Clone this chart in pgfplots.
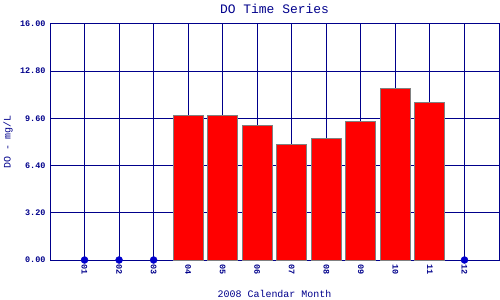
\documentclass[border=0pt]{standalone}
\usepackage{fontspec}
\setmainfont{Liberation Mono}
\usepackage{pgfplots}
\pgfplotsset{compat=1.18}
\definecolor{navy}{RGB}{0,0,139}
\definecolor{dotblue}{RGB}{0,0,205}
\begin{document}
\begin{tikzpicture}
\path[use as bounding box] (0,0) rectangle (500bp,300bp);
\begin{axis}[
  at={(50bp,40bp)}, anchor=south west,
  scale only axis, width=449bp, height=236bp,
  xmin=0, xmax=13, ymin=0, ymax=16,
  xtick={1,2,3,4,5,6,7,8,9,10,11,12},
  xticklabels={01,02,03,04,05,06,07,08,09,10,11,12},
  ytick={0,3.2,6.4,9.6,12.8,16},
  grid=major,
  major grid style={navy, line width=1bp},
  axis line style={navy, line width=1bp},
  major tick length=0pt,
  tick label style={font=\fontsize{8.5}{8.5}\selectfont\bfseries, text=navy},
  x tick label style={rotate=-90, anchor=west, inner sep=4.5bp},
  y tick label style={xshift=-1bp},
  yticklabel style={/pgf/number format/.cd, fixed, fixed zerofill, precision=2, assume math mode=true},
  clip=false,
  title={DO Time Series},
  title style={at={(axis description cs:0.5,1.021)}, anchor=base, inner sep=0pt, font=\fontsize{13}{13}\selectfont, text=navy},
  xlabel={2008 Calendar Month},
  xlabel style={at={(axis description cs:0.5,-0.1589)}, anchor=base, inner sep=0pt, font=\fontsize{10}{10}\selectfont, text=navy},
  ylabel={DO - mg/L},
  ylabel style={at={(axis description cs:-0.0875,0.5)}, anchor=base, inner sep=0pt, font=\fontsize{10}{10}\selectfont, text=navy},
]
\addplot[ybar, bar width=30bp, fill=red, draw=gray, line width=1bp]
  coordinates {(4,9.81) (5,9.81) (6,9.13) (7,7.84) (8,8.25) (9,9.40) (10,11.64) (11,10.69)};
\addplot[only marks, mark=*, mark size=3.5bp, color=dotblue]
  coordinates {(1,0) (2,0) (3,0) (12,0)};
\end{axis}
\end{tikzpicture}
\end{document}
